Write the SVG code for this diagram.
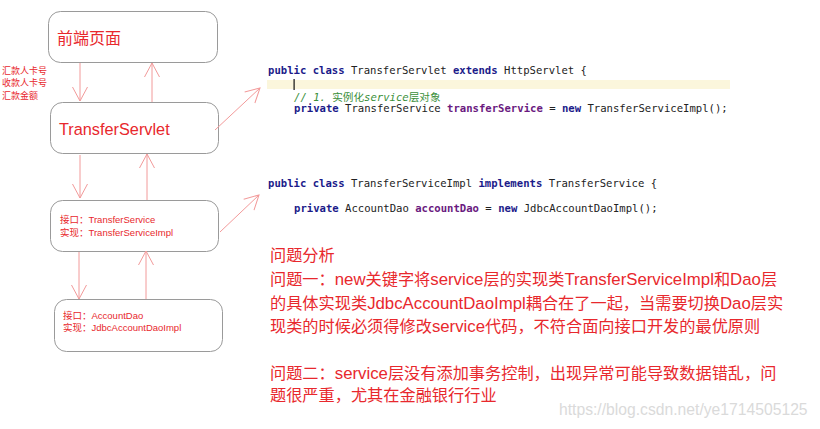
<svg xmlns="http://www.w3.org/2000/svg" width="820" height="429" viewBox="0 0 820 429">
<style>
.box{fill:#fff;stroke:#9a9a9a;stroke-width:1}
.red{fill:#e8282d;font-family:"Liberation Sans","Noto Sans CJK SC",sans-serif}
.con{stroke:#f29a9a;stroke-width:1;fill:none}
.code{font-family:"DejaVu Sans Mono","Liberation Mono","Noto Sans CJK SC",monospace;font-size:10.6px;fill:#222}
.kw{fill:#1b1b8a;font-weight:bold}
.fld{fill:#6a1a80;font-weight:bold}
.cm{fill:#3a8f3a}
.it{font-style:italic}
.big{font-size:16.2px}
.lt{font-size:16.8px}
</style>
<defs>
<marker id="ah" markerUnits="userSpaceOnUse" markerWidth="20" markerHeight="20" refX="0" refY="0" viewBox="-16 -10 18 20" orient="auto">
<path d="M-14,-7.5 L0,0 L-14,7.5" fill="none" stroke="#f29a9a" stroke-width="1"/>
</marker>
</defs>
<rect width="820" height="429" fill="#fff"/>

<g id="front">
<rect class="box" x="48.5" y="11.5" width="169" height="51" rx="12"/>
<text class="red" x="57" y="44" font-size="16">前端页面</text>
</g>
<g id="servlet">
<rect class="box" x="50.5" y="102.5" width="168" height="51" rx="12"/>
<text class="red" x="59" y="135" font-size="16.3">TransferServlet</text>
</g>
<g id="service">
<rect class="box" x="50.5" y="200.5" width="168" height="51" rx="12"/>
<text class="red" x="60" y="222.5" font-size="9.5">接口：TransferService</text>
<text class="red" x="60" y="235.5" font-size="9.5">实现：TransferServiceImpl</text>
</g>
<g id="dao">
<rect class="box" x="54.5" y="299.5" width="168" height="52" rx="12"/>
<text class="red" x="63" y="318.5" font-size="9.5">接口：AccountDao</text>
<text class="red" x="63" y="331" font-size="9.5">实现：JdbcAccountDaoImpl</text>
</g>

<g id="params">
<text class="red" x="2" y="73.5" font-size="9">汇款人卡号</text>
<text class="red" x="2" y="86" font-size="9">收款人卡号</text>
<text class="red" x="2" y="98.5" font-size="9">汇款金额</text>
</g>

<g id="connectors">
<line class="con" x1="80" y1="63" x2="80" y2="101" marker-end="url(#ah)"/>
<line class="con" x1="152" y1="102" x2="152" y2="63" marker-end="url(#ah)"/>
<line class="con" x1="80" y1="155" x2="80" y2="198" marker-end="url(#ah)"/>
<line class="con" x1="147" y1="200" x2="147" y2="154" marker-end="url(#ah)"/>
<line class="con" x1="79" y1="252" x2="79" y2="299" marker-end="url(#ah)"/>
<line class="con" x1="146" y1="299" x2="146" y2="251" marker-end="url(#ah)"/>
<line class="con" x1="215" y1="130" x2="260" y2="88" marker-end="url(#ah)"/>
<line class="con" x1="220" y1="232" x2="259" y2="195" marker-end="url(#ah)"/>
</g>

<g id="code1">
<rect x="267" y="80" width="463" height="9" fill="#fbf6dc"/>
<rect x="293.5" y="79" width="1.2" height="11" fill="#111"/>
<text class="code" x="268" y="74"><tspan class="kw">public class</tspan> TransferServlet <tspan class="kw">extends</tspan> HttpServlet {</text>
<text class="code cm" x="294" y="101"><tspan class="it">// 1. </tspan>实例化<tspan class="it">service</tspan>层对象</text>
<text class="code" x="294" y="112"><tspan class="kw">private</tspan> TransferService <tspan class="fld">transferService</tspan> = <tspan class="kw">new</tspan> TransferServiceImpl();</text>
</g>
<g id="code2">
<text class="code" x="268" y="187"><tspan class="kw">public class</tspan> TransferServiceImpl <tspan class="kw">implements</tspan> TransferService {</text>
<text class="code" x="294" y="212"><tspan class="kw">private</tspan> AccountDao <tspan class="fld">accountDao</tspan> = <tspan class="kw">new</tspan> JdbcAccountDaoImpl();</text>
</g>

<g id="analysis">
<text class="red big" x="270" y="261">问题分析</text>
<text class="red big" x="270" y="285">问题一：<tspan class="lt">new</tspan>关键字将<tspan class="lt">service</tspan>层的实现类<tspan class="lt">TransferServiceImpl</tspan>和<tspan class="lt">Dao</tspan>层</text>
<text class="red big" x="270" y="309">的具体实现类<tspan class="lt">JdbcAccountDaoImpl</tspan>耦合在了一起，当需要切换<tspan class="lt">Dao</tspan>层实</text>
<text class="red big" x="270" y="332">现类的时候必须得修改<tspan class="lt">service</tspan>代码，不符合面向接口开发的最优原则</text>
<text class="red big" x="270" y="379">问题二：<tspan class="lt">service</tspan>层没有添加事务控制，出现异常可能导致数据错乱，问</text>
<text class="red big" x="270" y="401">题很严重，尤其在金融银行行业</text>
</g>
<text x="559" y="415" font-family="Liberation Sans, sans-serif" font-size="15.7" fill="#dadada">https://blog.csdn.net/ye1714505125</text>
</svg>
